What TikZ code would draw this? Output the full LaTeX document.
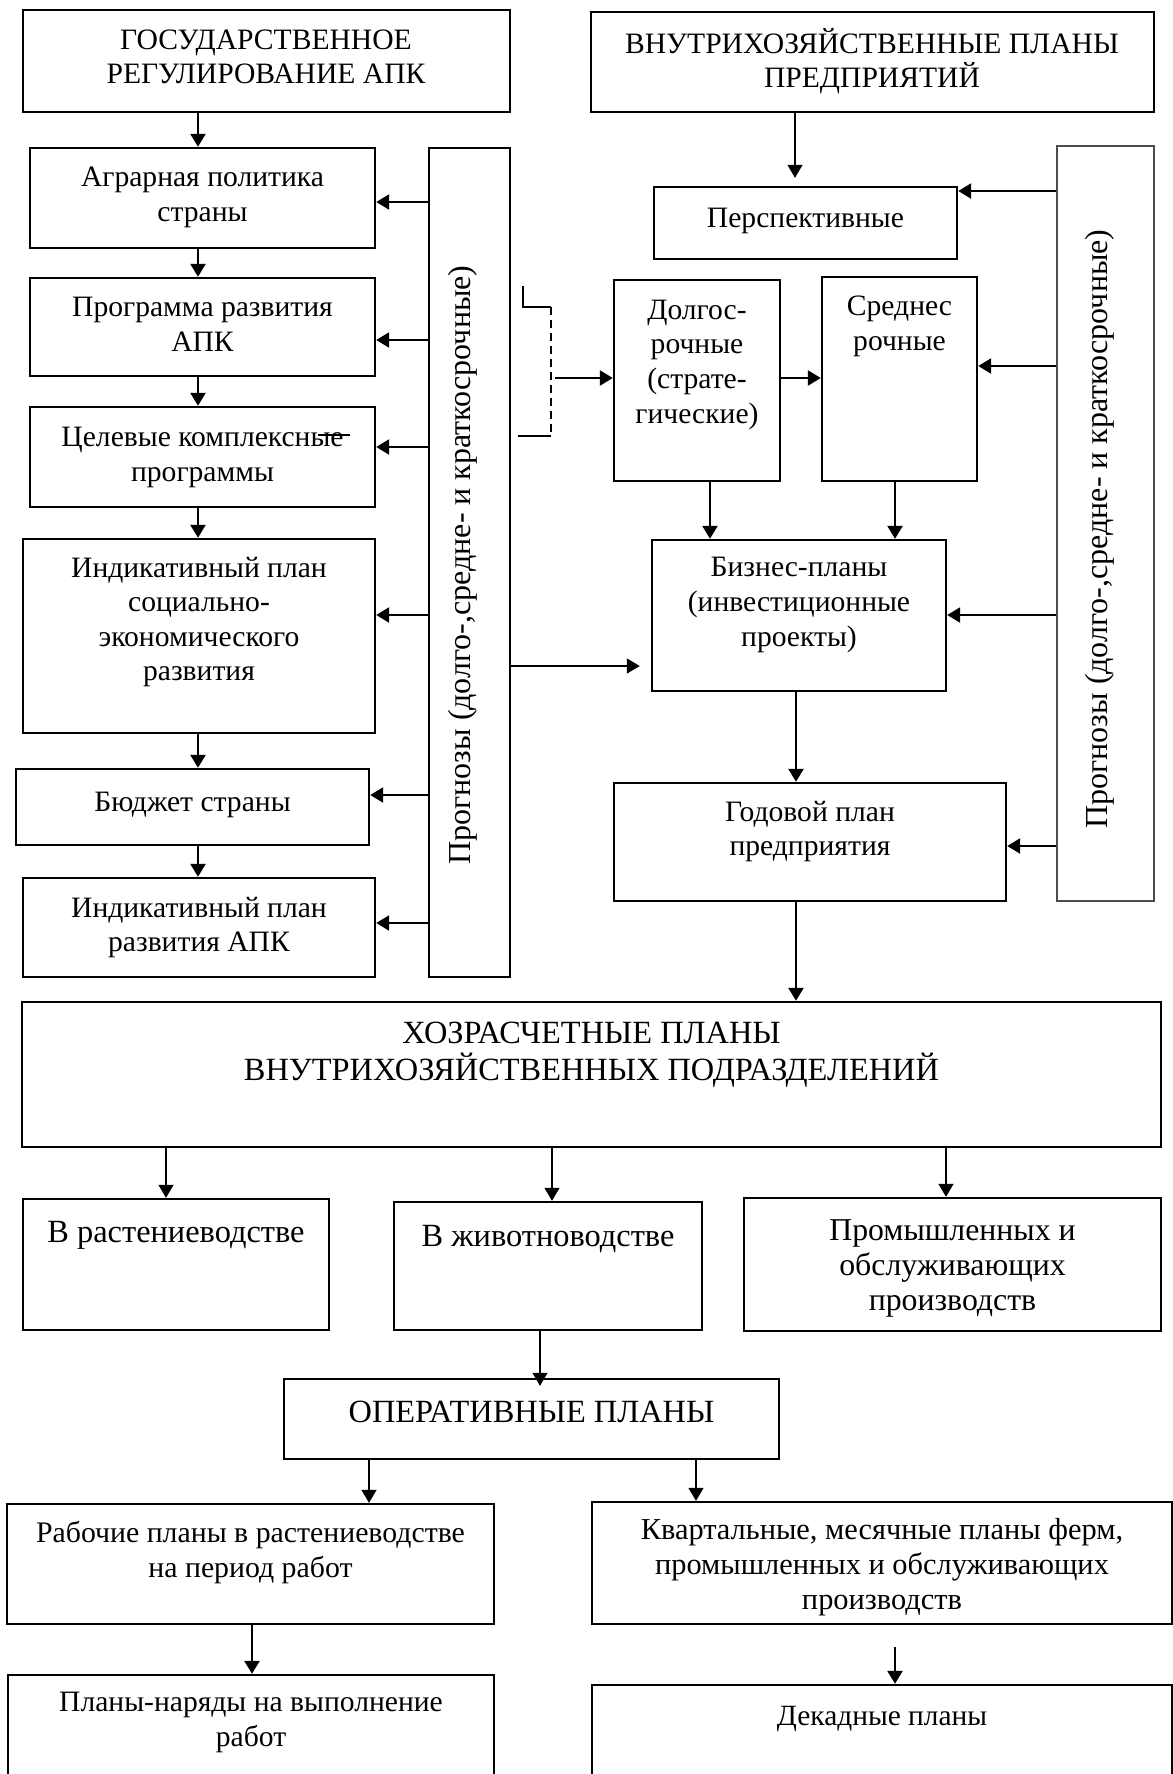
\documentclass[tikz,border=0pt]{standalone}
\usepackage{fontspec}
\setmainfont{Liberation Serif}
\usetikzlibrary{arrows.meta}

\tikzset{
  box/.style={draw, line width=1.2pt, rectangle, inner sep=0pt},
  thinbox/.style={draw=black!70, line width=0.6pt, rectangle, inner sep=0pt},
  txt/.style={align=center, inner sep=0pt, font=\fontsize{14.8}{17.3}\selectfont,
    execute at begin node=\strut, execute at end node=\strut},
  txtb/.style={txt, font=\fontsize{15.2}{17.5}\selectfont},
  txtl/.style={txt, font=\fontsize{16.2}{17.5}\selectfont},
  vtxt/.style={txt, rotate=90, font=\fontsize{16}{18.7}\selectfont},
  arr/.style={line width=1.2pt, -{Triangle[length=6.5pt,width=7.5pt]}},
  marr/.style={line width=0.9pt, -{Triangle[length=6.5pt,width=7.5pt]}},
  tarr/.style={line width=0.6pt, -{Triangle[length=6.5pt,width=7.5pt]}},
}

% box given by left, top, right, bottom
\newcommand\bx[6][box]{\node[#1, minimum width={0.5pt*(#5-#3)}, minimum height={0.5pt*(#6-#4)}] (#2) at ({(#3+#5)/2},{(#4+#6)/2}) {};}

\begin{document}
\begin{tikzpicture}[x=0.5pt, y=-0.5pt]
\clip (0,0) rectangle (1173,1774);
\fill[white] (0,0) rectangle (1173,1774);

% ---- state regulation column ----
\bx{G}{23}{10}{510}{112}
\bx{agr}{30}{148}{375}{248}
\bx{prog}{30}{278}{375}{376}
\bx{cel}{30}{407}{375}{507}
\bx{ind}{23}{539}{375}{733}
\bx{bud}{16}{769}{369}{845}
\bx{inda}{23}{878}{375}{977}
\bx{lcol}{429}{148}{510}{977}

\node[txt] (G-t) at (266,62) {ГОСУДАРСТВЕННОЕ\\РЕГУЛИРОВАНИЕ АПК};
\node[txt] (agr-t) at (202.5,199.5) {Аграрная политика\\страны};
\node[txt] (prog-t) at (202.5,329.5) {Программа развития\\АПК};
\node[txt] (cel-t) at (202.5,459.5) {Целевые комплексные\\программы};
\node[txt] (ind-t) at (199,624) {Индикативный план\\социально-\\экономического\\развития};
\node[txt] (bud-t) at (192.5,805) {Бюджет страны};
\node[txt] (inda-t) at (199,929.5) {Индикативный план\\развития АПК};
\node[vtxt] (lcol-t) at (463.5,565) {Прогнозы (долго-,средне- и краткосрочные)};
\draw[line width=0.8pt] (318,435) -- (350,435);

% ---- enterprise plans ----
\bx{B}{591}{12}{1154}{112}
\bx[thinbox]{rcol}{1057}{146}{1154}{901}
\bx{persp}{654}{187}{957}{259}
\bx{dolg}{614}{280}{780}{481}
\bx{sred}{822}{277}{977}{481}
\bx{biz}{652}{540}{946}{691}
\bx{god}{614}{783}{1006}{901}

\node[txt] (B-t) at (872,63) {ВНУТРИХОЗЯЙСТВЕННЫЕ ПЛАНЫ\\ПРЕДПРИЯТИЙ};
\node[txt] (persp-t) at (805.5,221) {Перспективные};
\node[txt] (dolg-t) at (697,366.75) {Долгос-\\рочные\\(страте-\\гические)};
\node[txt] (sred-t) at (899.5,328.5) {Среднес\\рочные};
\node[txt] (biz-t) at (799,607) {Бизнес-планы\\(инвестиционные\\проекты)};
\node[txt] (god-t) at (810,833.5) {Годовой план\\предприятия};
\node[vtxt] (rcol-t) at (1100.5,529) {Прогнозы (долго-,средне- и краткосрочные)};

% ---- cost-accounting and operational plans ----
\bx{hoz}{22}{1002}{1161}{1147}
\bx{rast}{23}{1199}{329}{1330}
\bx{zhiv}{394}{1202}{702}{1330}
\bx{prom}{744}{1198}{1161}{1331}
\bx{oper}{284}{1379}{779}{1459}
\bx{rab}{7}{1504}{494}{1624}
\bx{kvar}{592}{1502}{1172}{1624}
\bx{nar}{8}{1675}{494}{1800}
\bx{dek}{592}{1685}{1172}{1800}

\node[txtl, font=\fontsize{16.2}{18.3}\selectfont] (hoz-t) at (591.5,1056.5) {ХОЗРАСЧЕТНЫЕ ПЛАНЫ\\ВНУТРИХОЗЯЙСТВЕННЫХ ПОДРАЗДЕЛЕНИЙ};
\node[txtl] (rast-t) at (176,1235) {В растениеводстве};
\node[txtl] (zhiv-t) at (548,1239) {В животноводстве};
\node[txtl, font=\fontsize{15.9}{17.5}\selectfont] (prom-t) at (952.5,1270) {Промышленных и\\обслуживающих\\производств};
\node[txtl] (oper-t) at (531.5,1415) {ОПЕРАТИВНЫЕ ПЛАНЫ};
\node[txtb, font=\fontsize{14.9}{17.5}\selectfont] (rab-t) at (250.5,1555) {Рабочие планы в растениеводстве\\на период работ};
\node[txtb] (kvar-t) at (882,1569.5) {Квартальные, месячные планы ферм,\\промышленных и обслуживающих\\производств};
\node[txtb, font=\fontsize{14.8}{17.5}\selectfont] (nar-t) at (251,1725) {Планы-наряды на выполнение\\работ};
\node[txtb, font=\fontsize{14.7}{17.5}\selectfont] (dek-t) at (882,1718) {Декадные планы};

% ---- connectors ----
\coordinate (axis) at (198,0);
\draw[arr] (G.south -| axis) -- (agr.north -| axis);
\draw[arr] (agr.south -| axis) -- (prog.north -| axis);
\draw[arr] (prog.south -| axis) -- (cel.north -| axis);
\draw[arr] (cel.south -| axis) -- (ind.north -| axis);
\draw[arr] (ind.south -| axis) -- (bud.north -| axis);
\draw[arr] (bud.south -| axis) -- (inda.north -| axis);

\draw[arr] (lcol.west |- 0,202) -- (agr.east |- 0,202);
\draw[arr] (lcol.west |- 0,340) -- (prog.east |- 0,340);
\draw[arr] (lcol.west |- 0,447) -- (cel.east |- 0,447);
\draw[arr] (lcol.west |- 0,615) -- (ind.east |- 0,615);
\draw[arr] (lcol.west |- 0,795) -- (bud.east |- 0,795);
\draw[arr] (lcol.west |- 0,923) -- (inda.east |- 0,923);
\draw[tarr, shorten >=5.5pt] (lcol.east |- 0,666) -- (biz.west |- 0,666);

% dashed bracket feeding the long-term plans
\draw[line width=1pt] (523,286) -- (523,307) -- (551,307);
\draw[line width=1pt, dash pattern=on 4pt off 2.5pt] (551,307) -- (551,436);
\draw[line width=1pt] (518,436) -- (551,436);
\coordinate (brk) at (555,378);
\draw[arr] (brk) -- (dolg.west |- brk);

\coordinate (vx) at (795,0);
\draw[tarr, shorten >=4pt] (B.south -| vx) -- (persp.north -| vx);
\draw[arr] (rcol.west |- 0,191) -- (persp.east |- 0,191);
\draw[arr] (rcol.west |- 0,366) -- (sred.east |- 0,366);
\draw[arr] (rcol.west |- 0,615) -- (biz.east |- 0,615);
\draw[arr] (rcol.west |- 0,846) -- (god.east |- 0,846);
\draw[arr] (dolg.east |- 0,378) -- (sred.west |- 0,378);
\draw[arr] (dolg.south -| 710,0) -- (biz.north -| 710,0);
\draw[arr] (sred.south -| 895,0) -- (biz.north -| 895,0);
\draw[arr] (biz.south -| 796,0) -- (god.north -| 796,0);
\draw[arr] (god.south -| 796,0) -- (hoz.north -| 796,0);

\draw[tarr] (hoz.south -| 166,0) -- (rast.north -| 166,0);
\draw[tarr] (hoz.south -| 552,0) -- (zhiv.north -| 552,0);
\draw[tarr] (hoz.south -| 946,0) -- (prom.north -| 946,0);
\draw[tarr, shorten >=-4pt] (zhiv.south -| 540,0) -- (oper.north -| 540,0);
\draw[marr] (oper.south -| 369,0) -- (rab.north -| 369,0);
\draw[marr] (oper.south -| 696,0) -- (kvar.north -| 696,0);
\draw[arr] (rab.south -| 252,0) -- (nar.north -| 252,0);
\coordinate (kd) at (895,1647);
\draw[arr] (kd) -- (dek.north -| kd);
\end{tikzpicture}
\end{document}
